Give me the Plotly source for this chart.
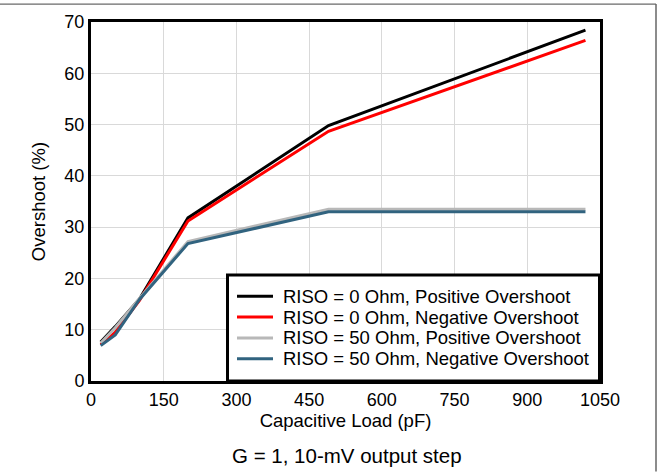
import plotly.graph_objects as go

cap_pf = [20, 50, 100, 200, 490, 1020]
riso0_pos = [7.6, 10.6, 16.0, 31.8, 49.8, 68.4]
riso0_neg = [7.1, 9.5, 15.7, 31.2, 48.7, 66.4]
riso50_pos = [7.4, 10.4, 16.1, 27.2, 33.5, 33.5]
riso50_neg = [6.9, 9.0, 15.9, 26.8, 33.0, 33.0]

names = ["RISO = 0 Ohm, Positive Overshoot",
         "RISO = 0 Ohm, Negative Overshoot",
         "RISO = 50 Ohm, Positive Overshoot",
         "RISO = 50 Ohm, Negative Overshoot"]
colors = ["#000000", "#ff0000", "#b8b8b8", "#31637f"]
series = [riso0_pos, riso0_neg, riso50_pos, riso50_neg]

x_ticks = [0, 150, 300, 450, 600, 750, 900, 1050]
y_ticks = [0, 10, 20, 30, 40, 50, 60, 70]

fig = go.Figure()
for n, c, s in zip(names, colors, series):
    fig.add_trace(go.Scatter(x=cap_pf, y=s, mode="lines", name=n,
                             line=dict(color=c, width=3), showlegend=False))

font = "Liberation Sans"
W, H = 658, 472
ml, mr, mt, mb = 91, 58, 20, 91
pw, ph = W - ml - mr, H - mt - mb


def px(x):
    return (x - ml) / pw


def py(y):
    return 1 - (y - mt) / ph


shapes = [dict(type="line", xref="paper", yref="paper",
               x0=px(0), x1=px(656), y0=py(2), y1=py(2),
               line=dict(color="#444444", width=1), layer="below"),
          dict(type="line", xref="paper", yref="paper",
               x0=px(656), x1=px(656), y0=py(2), y1=py(472),
               line=dict(color="#666666", width=1.5), layer="below"),
          # legend box
          dict(type="rect", xref="paper", yref="paper",
               x0=px(227.5), x1=px(599.5), y0=py(381), y1=py(274.5),
               fillcolor="white", line=dict(color="black", width=3), layer="above")]
annotations = [dict(text="G = 1, 10-mV output step", xref="paper", yref="paper",
                    x=px(347), y=py(456), showarrow=False, font=dict(size=20.5),
                    xanchor="center", yanchor="middle")]
row_y = [295.7, 316.7, 337.7, 358.7]
for n, c, ry in zip(names, colors, row_y):
    shapes.append(dict(type="line", xref="paper", yref="paper",
                       x0=px(237), x1=px(273), y0=py(ry), y1=py(ry),
                       line=dict(color=c, width=3), layer="above"))
    annotations.append(dict(text=n, xref="paper", yref="paper", x=px(281), y=py(ry),
                            xanchor="left", yanchor="middle", showarrow=False,
                            font=dict(size=18.5)))

fig.update_layout(
    width=W, height=H,
    margin=dict(l=ml, r=mr, t=mt, b=mb),
    paper_bgcolor="white", plot_bgcolor="white",
    font=dict(family=font, size=18, color="black"),
    showlegend=False,
    xaxis=dict(range=[0, 1050], tickvals=x_ticks, ticks="",
               showgrid=True, gridcolor="#d9d9d9", gridwidth=1,
               showline=True, linecolor="black", linewidth=3, mirror=True,
               zeroline=False, tickfont=dict(size=18),
               title=dict(text="Capacitive Load (pF)", standoff=2, font=dict(size=18.5))),
    yaxis=dict(range=[0, 70], tickvals=y_ticks, ticks="",
               showgrid=True, gridcolor="#d9d9d9", gridwidth=1,
               showline=True, linecolor="black", linewidth=3, mirror=True,
               zeroline=False, tickfont=dict(size=18),
               title=dict(text="Overshoot (%)", standoff=14, font=dict(size=18.5))),
    annotations=annotations,
    shapes=shapes,
)

fig.write_html("out.html", config={"displayModeBar": False},
               post_script="document.body.style.margin='0';")
